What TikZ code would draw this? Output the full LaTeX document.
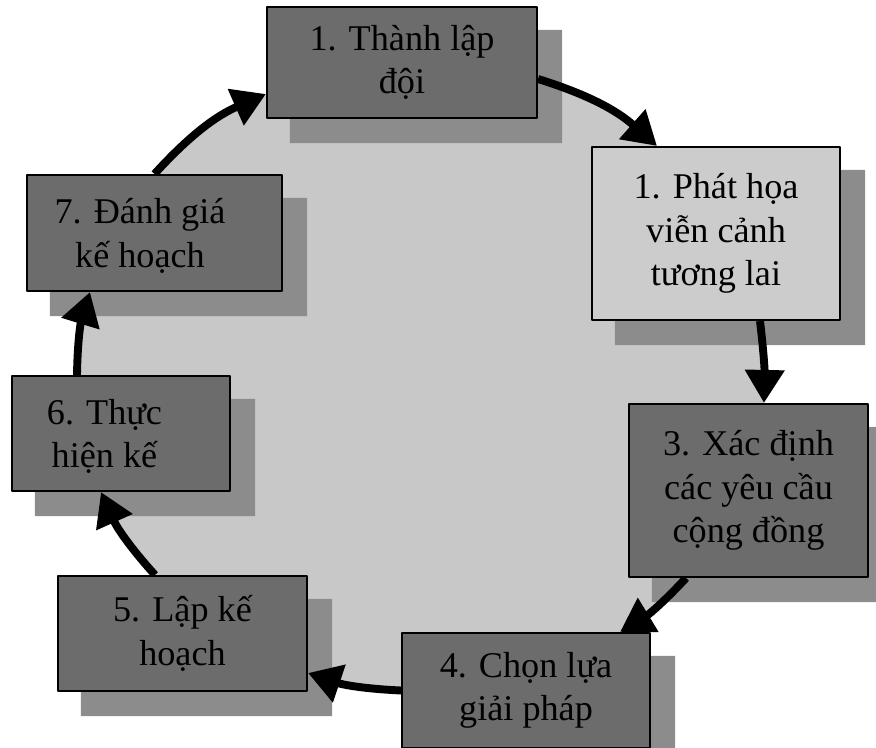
\documentclass[tikz,border=0pt]{standalone}
\usepackage{fontspec}
\setmainfont{Liberation Serif}
\usetikzlibrary{arrows.meta}

\definecolor{boxgray}{RGB}{108,108,108}
\definecolor{shadowgray}{RGB}{140,140,140}
\definecolor{ringgray}{RGB}{200,200,200}
\definecolor{palegray}{RGB}{204,204,204}

\pgfdeclarelayer{ring}
\pgfdeclarelayer{shade}
\pgfdeclarelayer{flow}
\pgfsetlayers{ring,shade,flow,main}

\tikzset{
	stepbox/.style={draw,line width=1.2pt,fill=boxgray,inner sep=0pt,align=center,font=\fontsize{20.6}{24.6}\selectfont},
	steptext/.style={inner sep=0pt,align=center,font=\fontsize{20.6}{24.6}\selectfont},
	flow/.style={line width=4.5pt,->},
}

\begin{document}
\begin{tikzpicture}[line join = round, line cap=round,>={Triangle[length=0.66cm,width=0.76cm]}]
			\useasboundingbox (0,0) rectangle (17.52,-14.96);
			% the seven steps
			\node[stepbox,minimum width=5.40cm,minimum height=2.22cm] (s1) at (8.04,-1.25) {1. Thành lập\\đội};
			\node[stepbox,fill=palegray,minimum width=4.96cm,minimum height=3.46cm] (s2) at (14.32,-4.67) {1. Phát họa\\viễn cảnh\\tương lai};
			\node[stepbox,minimum width=4.78cm,minimum height=3.46cm] (s3) at (14.97,-9.81) {3. Xác định\\các yêu cầu\\cộng đồng};
			\node[stepbox,minimum width=4.96cm,minimum height=2.30cm] (s4) at (10.52,-13.81) {4. Chọn lựa\\giải pháp};
			\node[stepbox,minimum width=4.98cm,minimum height=2.30cm] (s5) at (3.65,-12.67) {5. Lập kế\\hoạch};
			\node[stepbox,minimum width=4.36cm,minimum height=2.30cm] (s6) at (2.42,-8.67) {};
			\node[steptext] (t6) at ([xshift=-.33cm,yshift=-.06cm]s6.center) {6. Thực\\hiện kế};
			\node[stepbox,minimum width=5.10cm,minimum height=2.32cm] (s7) at (3.09,-4.66) {};
			\node[steptext] (t7) at ([xshift=-.29cm,yshift=-.06cm]s7.center) {7. Đánh giá\\kế hoạch};
			
			\begin{pgfonlayer}{ring}
			\fill[ringgray]
			(8.42,-7.52) ellipse ({6.88} and {6.30})
			;
			\end{pgfonlayer}
			
			\begin{pgfonlayer}{shade}
			\fill[shadowgray]
			([shift={(.48,-.48)}]s1.south west) rectangle ([shift={(.48,-.48)}]s1.north east)
			([shift={(.48,-.48)}]s2.south west) rectangle ([shift={(.48,-.48)}]s2.north east)
			([shift={(.48,-.48)}]s3.south west) rectangle ([shift={(.48,-.48)}]s3.north east)
			([shift={(.48,-.48)}]s4.south west) rectangle ([shift={(.48,-.48)}]s4.north east)
			([shift={(.48,-.48)}]s5.south west) rectangle ([shift={(.48,-.48)}]s5.north east)
			([shift={(.48,-.48)}]s6.south west) rectangle ([shift={(.48,-.48)}]s6.north east)
			([shift={(.48,-.48)}]s7.south west) rectangle ([shift={(.48,-.48)}]s7.north east)
			;
			\end{pgfonlayer}
			
			\begin{pgfonlayer}{flow}
			\draw[flow] ([yshift=-.33cm]s1.east) to[bend left=12] ([xshift=-1.18cm]s2.north);
			\draw[flow] ([xshift=.88cm]s2.south) to[bend left=4] ([xshift=.31cm]s3.north);
			\draw[flow] ([xshift=-1.25cm]s3.south) to[bend left=8] ([xshift=1.88cm]s4.north);
			\draw[flow] (s4.west) to[bend left=8] ([yshift=-.79cm]s5.east);
			\draw[flow] ([xshift=-.55cm]s5.north) to[bend left=9] ([xshift=-.40cm]s6.south);
			\draw[flow] ([xshift=-.88cm]s6.north) to[bend left=8] ([xshift=-1.29cm]s7.south);
			\draw[flow] (s7.north) to[bend left=12] ([yshift=-.63cm]s1.west);
			\end{pgfonlayer}
			
		\end{tikzpicture}
\end{document}
